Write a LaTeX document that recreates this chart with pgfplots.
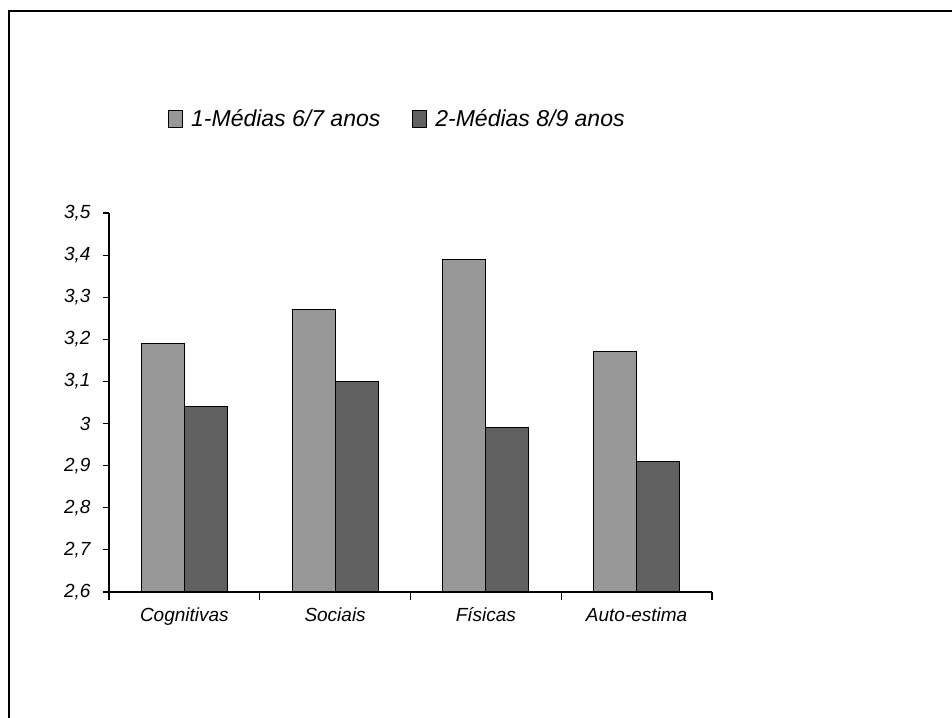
\documentclass[border=0pt]{standalone}
\usepackage{pgfplots}
\pgfplotsset{compat=1.18}
\usepackage{fontspec}
\setmainfont{Liberation Sans}
\definecolor{barA}{RGB}{152,152,152}
\definecolor{barB}{RGB}{96,96,96}
\begin{document}
\begin{tikzpicture}[x=1pt,y=1pt]
\useasboundingbox (0,0) rectangle (952,717);
% page frame
\draw[line width=2pt] (9,-5) -- (9,706) -- (960,706);
\begin{axis}[
  at={(109pt,125pt)}, anchor=south west,
  scale only axis, width=603pt, height=379pt,
  xmin=-0.5, xmax=3.5, ymin=2.6, ymax=3.5,
  axis x line*=bottom, axis y line*=left,
  axis line style={-, line width=1.3pt},
  ybar=0pt, bar width=43pt,
  xtick={0,1,2,3},
  xticklabels={Cognitivas,Sociais,Físicas,Auto-estima},
  minor xtick={-0.5,0.5,1.5,2.5,3.5},
  major x tick style={draw=none},
  minor x tick style={black, line width=1.2pt},
  y tick style={black, line width=1.2pt},
  ytick={2.6,2.7,2.8,2.9,3.0,3.1,3.2,3.3,3.4,3.5},
  tick align=outside, major tick length=6pt, minor tick length=8pt,
  ticklabel style={font=\itshape\fontsize{19}{22}\selectfont},
  xticklabel style={yshift=-6pt},
  yticklabel style={xshift=-9pt},
  /pgf/number format/.cd, use comma, fixed, precision=1, assume math mode=true,
  /pgfplots/.cd,
  legend columns=2,
  legend image code/.code={%
    \draw[#1] (0pt,-8.5pt) rectangle (14pt,8.5pt);
    \path (20pt,0pt);},
  legend style={at={(0.0978,1.249)}, anchor=west, draw=none, fill=none,
    font=\itshape\fontsize{23}{27}\selectfont, inner sep=0pt,
    /tikz/every even column/.append style={column sep=30pt}},
]
\addplot[fill=barA, draw=black, line width=1pt]
  coordinates {(0,3.19) (1,3.27) (2,3.39) (3,3.17)};
\addlegendentry{1-Médias 6/7 anos}
\addplot[fill=barB, draw=black, line width=1pt]
  coordinates {(0,3.04) (1,3.10) (2,2.99) (3,2.91)};
\addlegendentry{2-Médias 8/9 anos}
\end{axis}
\end{tikzpicture}
\end{document}
